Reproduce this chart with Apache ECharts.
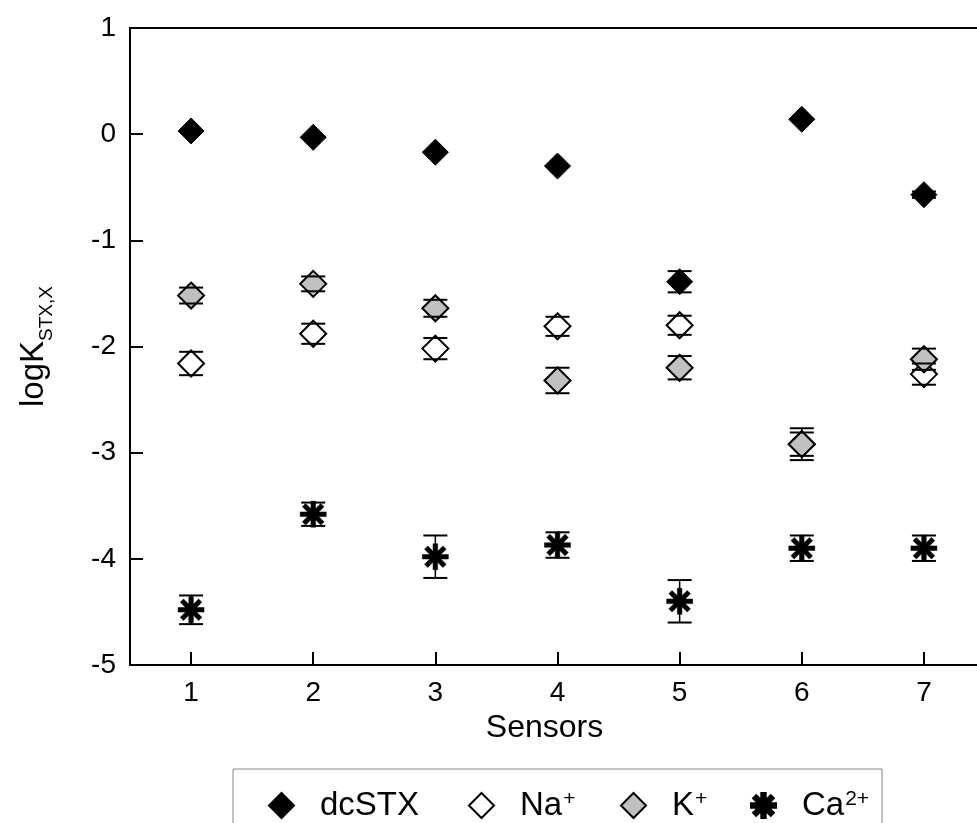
<!DOCTYPE html>
<html>
<head>
<meta charset="utf-8">
<script src="https://cdn.jsdelivr.net/npm/echarts@6.0.0/dist/echarts.min.js"></script>
<style>
html,body{margin:0;padding:0;background:#fff}
#chart{width:977px;height:823px}
</style>
</head>
<body>
<div id="chart"></div>
<script>
const sensors = [1, 2, 3, 4, 5, 6, 7];
const xTicks = [1, 2, 3, 4, 5, 6, 7];

const dcSTX    = [0.03, -0.03, -0.17, -0.30, -1.39, 0.14, -0.57];
const dcSTXErr = [0, 0, 0, 0, 0.10, 0, 0.03];
const na       = [-2.16, -1.88, -2.02, -1.81, -1.80, -2.92, -2.26];
const naErr    = [0.11, 0.095, 0.10, 0.09, 0.09, 0.11, 0.10];
const k        = [-1.52, -1.41, -1.64, -2.32, -2.20, -2.92, -2.12];
const kErr     = [0.075, 0.07, 0.08, 0.12, 0.11, 0.15, 0.10];
const ca       = [-4.48, -3.58, -3.98, -3.87, -4.40, -3.90, -3.90];
const caErr    = [0.135, 0.11, 0.20, 0.12, 0.20, 0.12, 0.12];

const font = '"Liberation Sans", Arial, sans-serif';

// heavy 8-armed asterisk as a filled outline
function starPath(R, h) {
  const n = 8, r = h / Math.sin(Math.PI / n), p = [];
  for (let i = 0; i < n; i++) {
    const a = i * 2 * Math.PI / n, c = Math.cos(a), s = Math.sin(a);
    p.push([R * c + h * s, R * s - h * c], [R * c - h * s, R * s + h * c]);
    const b = a + Math.PI / n;
    p.push([r * Math.cos(b), r * Math.sin(b)]);
  }
  return 'path://M' + p.map(q => q[0].toFixed(2) + ',' + q[1].toFixed(2)).join('L') + 'Z';
}
const star = starPath(13, 2.3);

const pts = vals => sensors.map((s, i) => [s, vals[i]]);
const errPts = (vals, errs) => sensors.map((s, i) => [s, vals[i], errs[i]]);

// error bars drawn in two parts: stem under the markers, caps on top
function errBar(part) {
  return (params, api) => {
    const x = api.value(0), y = api.value(1), e = api.value(2);
    const top = api.coord([x, y + e]), bot = api.coord([x, y - e]);
    const w = 12;
    const st = {stroke: '#000', lineWidth: 2};
    if (part === 'stem') {
      return {type: 'line', shape: {x1: top[0], y1: top[1], x2: bot[0], y2: bot[1]}, style: {stroke: '#000', lineWidth: 1.5}};
    }
    return {type: 'group', children: [
      {type: 'line', shape: {x1: top[0] - w, y1: top[1], x2: top[0] + w, y2: top[1]}, style: st},
      {type: 'line', shape: {x1: bot[0] - w, y1: bot[1], x2: bot[0] + w, y2: bot[1]}, style: st}
    ]};
  };
}

const groups = [
  {name: 'dcSTX', v: dcSTX, e: dcSTXErr, symbol: 'diamond', size: 26, style: {color: '#000', borderColor: '#000', borderWidth: 1, opacity: 1}},
  {name: 'Na+', v: na, e: naErr, symbol: 'diamond', size: 26, style: {color: '#fff', borderColor: '#000', borderWidth: 2, opacity: 1}},
  {name: 'K+', v: k, e: kErr, symbol: 'diamond', size: 26, style: {color: '#c0c0c0', borderColor: '#000', borderWidth: 2, opacity: 1}},
  {name: 'Ca2+', v: ca, e: caErr, symbol: star, size: 26, style: {color: '#000', borderColor: '#000', borderWidth: 0.5, opacity: 1}}
];

const series = [];
groups.forEach(g => series.push({name: g.name + '-stem', type: 'custom', z: 1, renderItem: errBar('stem'), data: errPts(g.v, g.e), silent: true}));
groups.forEach(g => series.push({name: g.name, type: 'scatter', z: 2, symbol: g.symbol, symbolSize: g.size, itemStyle: g.style, data: pts(g.v)}));
groups.forEach(g => series.push({name: g.name + '-cap', type: 'custom', z: 3, renderItem: errBar('cap'), data: errPts(g.v, g.e), silent: true}));

const legendText = {
  'dcSTX': '{b|dcSTX}',
  'Na+': '{b|Na}{s|+}',
  'K+': '{b|K}{s|+}',
  'Ca2+': '{b|Ca}{s|2+}'
};
const legendTextStyle = {fontFamily: font, fontSize: 33, color: '#000', padding: [0, 0, 0, 21], rich: {
  b: {fontFamily: font, fontSize: 33, color: '#000'},
  s: {fontFamily: font, fontSize: 21, color: '#000', verticalAlign: 'top', padding: [0, 0, 4, 1]}
}};
// one legend per entry so each sits where the reference has it; the first draws the box
const legendLeft = [233, 468, 620, 750];
const legends = groups.map((g, i) => ({
  left: legendLeft[i], top: i === 0 ? 769 : 789,
  itemGap: 0, itemWidth: 25, itemHeight: 25,
  padding: i === 0 ? [20, 463, 40, 35] : 0,
  borderColor: '#888', borderWidth: i === 0 ? 1 : 0,
  selectedMode: false,
  data: [g.name],
  formatter: n => legendText[n],
  textStyle: legendTextStyle
}));

const chart = echarts.init(document.getElementById('chart'));
chart.setOption({
  animation: false,
  backgroundColor: '#fff',
  grid: {left: 130, top: 28, right: -8, bottom: 158, outerBoundsMode: 'none', show: true, borderColor: '#000', borderWidth: 2},
  xAxis: {
    type: 'value', min: 0.5, max: 7.5,
    name: 'Sensors', nameLocation: 'middle', nameGap: 45,
    nameTextStyle: {fontFamily: font, fontSize: 32, color: '#000', padding: [0, 26, 0, 0]},
    axisLine: {onZero: false, lineStyle: {color: '#000', width: 2}},
    axisTick: {inside: true, length: 13, customValues: xTicks, lineStyle: {color: '#000', width: 2}},
    axisLabel: {customValues: xTicks, fontFamily: font, fontSize: 28, color: '#000', margin: 14},
    splitLine: {show: false}
  },
  yAxis: {
    type: 'value', min: -5, max: 1, interval: 1,
    name: '{a|logK}{b|STX,X}', nameLocation: 'middle', nameGap: 80,
    nameTextStyle: {fontFamily: font, color: '#000', rich: {
      a: {fontFamily: font, fontSize: 33, color: '#000'},
      b: {fontFamily: font, fontSize: 19, color: '#000', verticalAlign: 'bottom', padding: [0, 0, -6, 0]}
    }},
    axisLine: {onZero: false, lineStyle: {color: '#000', width: 2}},
    axisTick: {inside: true, length: 13, lineStyle: {color: '#000', width: 2}},
    axisLabel: {fontFamily: font, fontSize: 28, color: '#000', margin: 14},
    splitLine: {show: false}
  },
  legend: legends,
  series: series
});
</script>
</body>
</html>
